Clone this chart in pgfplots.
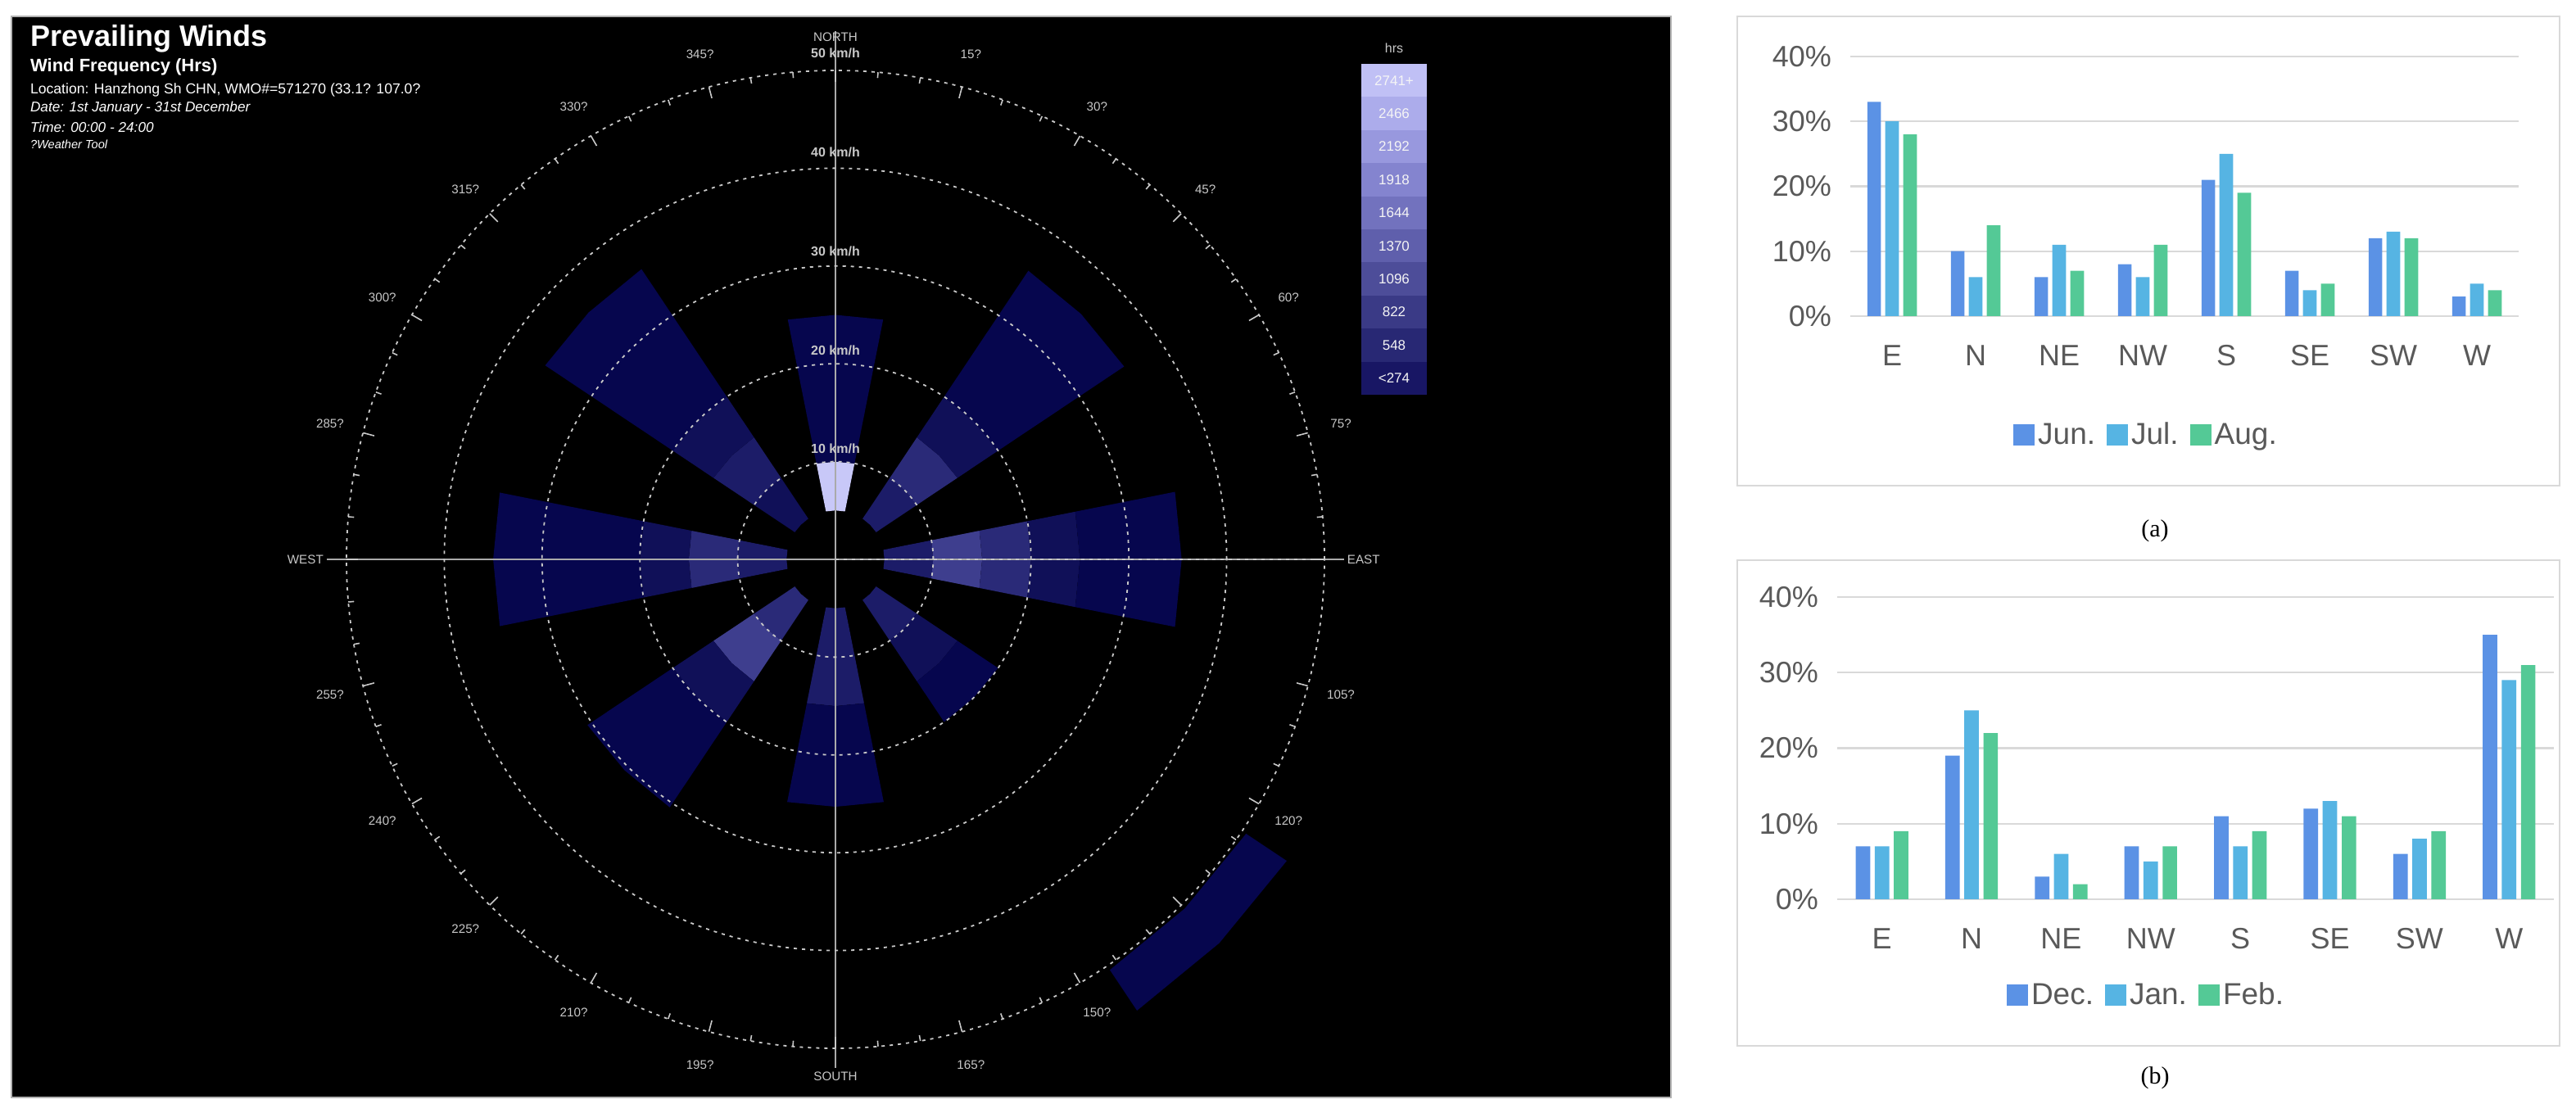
\documentclass[border=0pt]{standalone}
\usepackage{fontspec}
\setmainfont{Liberation Sans}
\newfontfamily\capfont{Liberation Serif}
\usepackage{pgfplots}
\pgfplotsset{compat=1.18}
\usepgfplotslibrary{polar}

% rose colours
\definecolor{rA}{RGB}{6,6,78}
\definecolor{rB}{RGB}{16,16,88}
\definecolor{rC}{RGB}{28,28,104}
\definecolor{rD}{RGB}{42,42,120}
\definecolor{rE}{RGB}{62,62,142}
\definecolor{rL}{RGB}{200,200,248}
\definecolor{ringgray}{RGB}{200,200,200}
\definecolor{crossgray}{RGB}{170,170,170}
% hrs scale
\definecolor{L1}{RGB}{192,192,245}
\definecolor{L2}{RGB}{172,172,235}
\definecolor{L3}{RGB}{152,152,222}
\definecolor{L4}{RGB}{132,132,207}
\definecolor{L5}{RGB}{114,114,190}
\definecolor{L6}{RGB}{95,95,172}
\definecolor{L7}{RGB}{77,77,153}
\definecolor{L8}{RGB}{58,58,134}
\definecolor{L9}{RGB}{40,40,116}
\definecolor{L10}{RGB}{24,22,100}
% bar charts
\definecolor{cA}{RGB}{91,146,229}
\definecolor{cB}{RGB}{86,180,227}
\definecolor{cC}{RGB}{84,201,150}
\definecolor{gridg}{RGB}{217,217,217}
\definecolor{labg}{RGB}{89,89,89}

% one radial cell of the rose: angle from, mid, to, radius from, to, colour
\newcommand{\seg}[6]{\addplot[fill=#6, draw=none] coordinates {(#1,#4) (#1,#5) (#2,#5) (#3,#5) (#3,#4) (#2,#4)};}

\pgfplotsset{
  barchart/.style={
    scale only axis, anchor=south west,
    ybar=#1,
    xmin=-0.5, xmax=7.5, ymin=0, ymax=40,
    xtick={0,...,7}, xticklabels={E,N,NE,NW,S,SE,SW,W},
    ytick={0,10,20,30,40},
    yticklabel={\pgfmathprintnumber{\tick}\%},
    /pgf/number format/assume math mode=true,
    axis line style={draw=none}, tick style={draw=none},
    ymajorgrids, major grid style={draw=gridg, line width=1.2pt},
    tick label style={font=\fontsize{18}{18}\selectfont, text=labg},
    yticklabel style={xshift=-8pt},
    xticklabel style={yshift=-10pt},
    legend columns=-1,
    legend image code/.code={\fill[##1] (0pt,-6.5pt) rectangle (13pt,6.5pt);},
    legend style={draw=none, fill=none, anchor=center,
      font=\fontsize{18.5}{18.5}\selectfont, text=labg,
      /tikz/every even column/.append style={column sep=5pt}},
  }
}

\begin{document}
\begin{tikzpicture}
\path[use as bounding box] (0,0) rectangle (1572.5pt,679.5pt);

% rose panel
\fill[black, draw=gray!60, line width=1pt] (7pt,9.5pt) rectangle (1020pt,669.5pt);

\node[anchor=base west, text=white, font=\bfseries\fontsize{18}{18}\selectfont] at (15pt,651pt) {Prevailing Winds};
\node[anchor=base west, text=white, font=\bfseries\fontsize{11}{11}\selectfont] at (15pt,635.5pt) {Wind Frequency (Hrs)};
\node[anchor=base west, text=white, font=\fontsize{8.8}{8.8}\selectfont] at (15pt,622pt) {Location: Hanzhong Sh CHN, WMO\#=571270 (33.1? 107.0?};
\node[anchor=base west, text=white, font=\itshape\fontsize{8.6}{8.6}\selectfont] at (15pt,611pt) {Date: 1st January - 31st December};
\node[anchor=base west, text=white, font=\itshape\fontsize{8.6}{8.6}\selectfont] at (15pt,598.5pt) {Time: 00:00 - 24:00};
\node[anchor=base west, text=white, font=\itshape\fontsize{7.3}{7.3}\selectfont] at (15pt,588.5pt) {?Weather Tool};

% hrs scale
\node[text=ringgray, font=\fontsize{8}{8}\selectfont] at (851pt,650pt) {hrs};
\foreach \c/\t [count=\i] in {L1/2741+,L2/2466,L3/2192,L4/1918,L5/1644,L6/1370,L7/1096,L8/822,L9/548,L10/<274}{
  \fill[\c] (831pt,{640.5pt-(\i-1)*20.2pt}) rectangle (871pt,{640.5pt-\i*20.2pt});
  \node[text=white!92!gray, font=\fontsize{8.5}{8.5}\selectfont] at (851pt,{640.5pt-(\i-0.5)*20.2pt}) {\t};
}

\begin{polaraxis}[
  at={(510pt,338pt)}, anchor=origin,
  width=597pt, height=597pt, scale only axis,
  ymin=0, ymax=50, clip=false,
  xtick={0,15,...,345}, minor x tick num=2,
  xticklabels={}, ytick={10,20,30,40}, yticklabels={},
  tick align=outside, major tick length=7pt, minor tick length=3.5pt,
  xtick style={draw=ringgray, line width=0.8pt},
  ytick style={draw=none},
  xmajorgrids=false, xminorgrids=false, yminorgrids=false,
  ymajorgrids=true,
  major grid style={draw=ringgray, dash pattern=on 2pt off 3pt, line width=0.9pt},
  axis line style={draw=ringgray, dash pattern=on 2pt off 3pt, line width=0.9pt},
  axis on top,
]
% N
\seg{78.75}{90}{101.25}{5}{10}{rL}
\seg{78.75}{90}{101.25}{10}{25}{rA}
% NE
\seg{33.75}{45}{56.25}{5}{10}{rC}
\seg{33.75}{45}{56.25}{10}{15}{rD}
\seg{33.75}{45}{56.25}{15}{20}{rB}
\seg{33.75}{45}{56.25}{20}{35.5}{rA}
% E
\seg{-11.25}{0}{11.25}{5}{10}{rC}
\seg{-11.25}{0}{11.25}{10}{15}{rE}
\seg{-11.25}{0}{11.25}{15}{20}{rD}
\seg{-11.25}{0}{11.25}{20}{25}{rB}
\seg{-11.25}{0}{11.25}{25}{35.4}{rA}
% SE
\seg{-56.25}{-45}{-33.75}{5}{10}{rC}
\seg{-56.25}{-45}{-33.75}{10}{15}{rB}
\seg{-56.25}{-45}{-33.75}{15}{20}{rA}
% S
\seg{258.75}{270}{281.25}{5}{15}{rC}
\seg{258.75}{270}{281.25}{15}{25.3}{rA}
% SW
\seg{213.75}{225}{236.25}{5}{10}{rD}
\seg{213.75}{225}{236.25}{10}{15}{rE}
\seg{213.75}{225}{236.25}{15}{20}{rB}
\seg{213.75}{225}{236.25}{20}{30.5}{rA}
% W
\seg{168.75}{180}{191.25}{5}{10}{rC}
\seg{168.75}{180}{191.25}{10}{15}{rD}
\seg{168.75}{180}{191.25}{15}{20}{rB}
\seg{168.75}{180}{191.25}{20}{35}{rA}
% NW
\seg{123.75}{135}{146.25}{5}{10}{rB}
\seg{123.75}{135}{146.25}{10}{15}{rC}
\seg{123.75}{135}{146.25}{15}{20}{rB}
\seg{123.75}{135}{146.25}{20}{35.7}{rA}
% outlying cell at 135 degrees
\seg{-56.25}{-45}{-33.75}{50.5}{55.5}{rA}

% compass cross
\addplot[draw=crossgray, line width=1pt] coordinates {(90,54) (270,52)};
\addplot[draw=crossgray, line width=1pt] coordinates {(0,52) (180,52)};

\begin{scope}[every node/.style={text=ringgray, font=\fontsize{7.6}{7.6}\selectfont}]
\node at (axis cs:90,53.4) {NORTH};
\node at (axis cs:270,52.9) {SOUTH};
\node at (axis cs:0,54) {EAST};
\node at (axis cs:180,54.2) {WEST};
\node at (axis cs:75,53.5) {15?};
\node at (axis cs:60,53.5) {30?};
\node at (axis cs:45,53.5) {45?};
\node at (axis cs:30,53.5) {60?};
\node at (axis cs:15,53.5) {75?};
\node at (axis cs:-15,53.5) {105?};
\node at (axis cs:-30,53.5) {120?};
\node at (axis cs:-60,53.5) {150?};
\node at (axis cs:-75,53.5) {165?};
\node at (axis cs:255,53.5) {195?};
\node at (axis cs:240,53.5) {210?};
\node at (axis cs:225,53.5) {225?};
\node at (axis cs:210,53.5) {240?};
\node at (axis cs:195,53.5) {255?};
\node at (axis cs:165,53.5) {285?};
\node at (axis cs:150,53.5) {300?};
\node at (axis cs:135,53.5) {315?};
\node at (axis cs:120,53.5) {330?};
\node at (axis cs:105,53.5) {345?};
\end{scope}
\begin{scope}[every node/.style={text=ringgray, font=\bfseries\fontsize{8}{8}\selectfont}]
\node at (axis cs:90,11.3) {10 km/h};
\node at (axis cs:90,21.4) {20 km/h};
\node at (axis cs:90,31.5) {30 km/h};
\node at (axis cs:90,41.6) {40 km/h};
\node at (axis cs:90,51.8) {50 km/h};
\end{scope}
\end{polaraxis}

% bar chart frames
\draw[gridg, line width=1.2pt] (1060.5pt,383pt) rectangle (1562.5pt,669.5pt);
\draw[gridg, line width=1.2pt] (1060.5pt,41pt) rectangle (1562.5pt,337.5pt);

% (a) summer
\begin{axis}[barchart=2.6pt,
  at={(1129.5pt,486.5pt)}, width=408pt, height=158.5pt, bar width=8.35pt,
  legend style={at={(0.4436,-0.457)}},
]
\addplot[fill=cA, draw=none] coordinates {(0,33) (1,10) (2,6) (3,8) (4,21) (5,7) (6,12) (7,3)};
\addplot[fill=cB, draw=none] coordinates {(0,30) (1,6) (2,11) (3,6) (4,25) (5,4) (6,13) (7,5)};
\addplot[fill=cC, draw=none] coordinates {(0,28) (1,14) (2,7) (3,11) (4,19) (5,5) (6,12) (7,4)};
\legend{Jun.,Jul.,Aug.}
\end{axis}

% (b) winter
\begin{axis}[barchart=2.8pt,
  at={(1121.5pt,130.5pt)}, width=437.5pt, height=184.5pt, bar width=8.85pt,
  legend style={at={(0.432,-0.317)}},
]
\addplot[fill=cA, draw=none] coordinates {(0,7) (1,19) (2,3) (3,7) (4,11) (5,12) (6,6) (7,35)};
\addplot[fill=cB, draw=none] coordinates {(0,7) (1,25) (2,6) (3,5) (4,7) (5,13) (6,8) (7,29)};
\addplot[fill=cC, draw=none] coordinates {(0,9) (1,22) (2,2) (3,7) (4,9) (5,11) (6,9) (7,31)};
\legend{Dec.,Jan.,Feb.}
\end{axis}

\node[font=\capfont\fontsize{15}{15}\selectfont] at (1315.5pt,355.5pt) {(a)};
\node[font=\capfont\fontsize{15}{15}\selectfont] at (1315.5pt,21.5pt) {(b)};
\end{tikzpicture}
\end{document}
